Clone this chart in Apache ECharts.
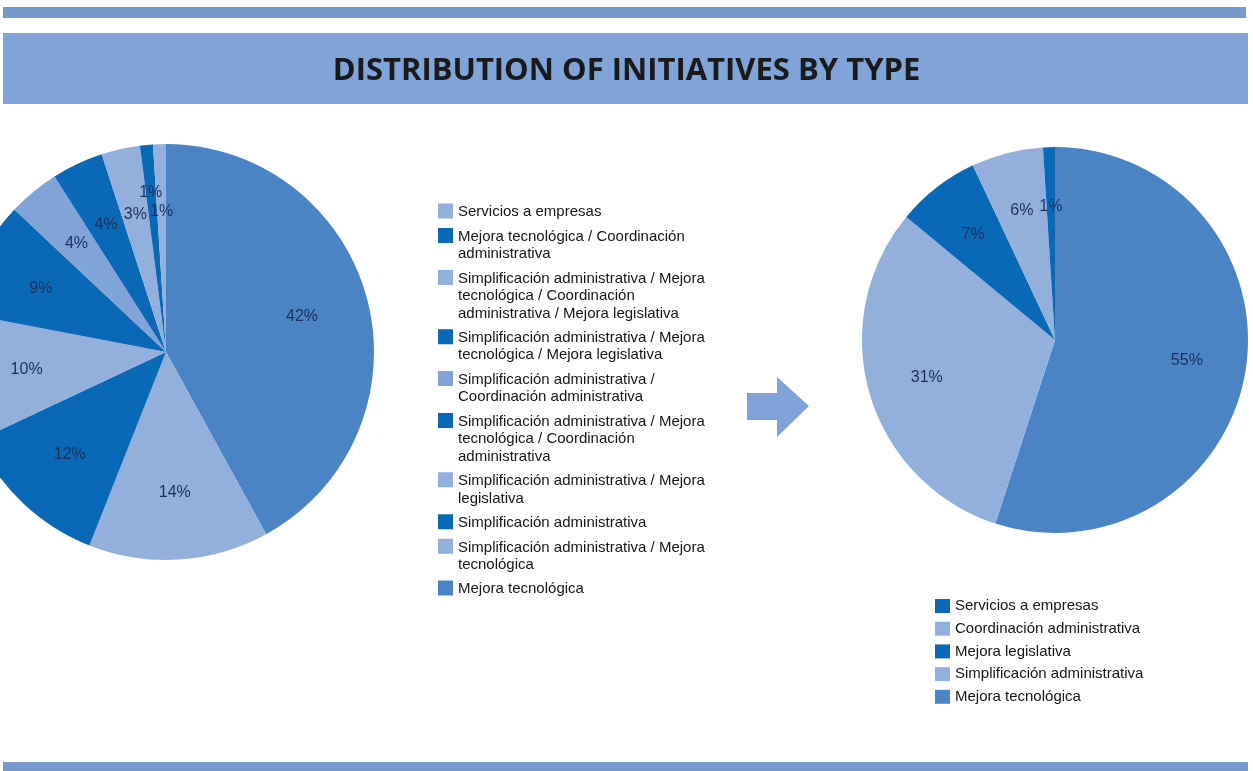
<!DOCTYPE html>
<html>
<head>
<meta charset="utf-8">
<script src="https://cdn.jsdelivr.net/npm/echarts@6/dist/echarts.min.js"></script>
<style>html,body{margin:0;padding:0;background:#fff}#c{width:1253px;height:771px}</style>
</head>
<body>
<div id="c"></div>
<script>
const titleText = 'DISTRIBUTION OF INITIATIVES BY TYPE';

// Left pie, clockwise from 12 o'clock
const leftCategories = [
  'Mejora tecnológica',
  'Simplificación administrativa / Mejora tecnológica',
  'Simplificación administrativa',
  'Simplificación administrativa / Mejora legislativa',
  'Simplificación administrativa / Mejora tecnológica / Coordinación administrativa',
  'Simplificación administrativa / Coordinación administrativa',
  'Simplificación administrativa / Mejora tecnológica / Mejora legislativa',
  'Simplificación administrativa / Mejora tecnológica / Coordinación administrativa / Mejora legislativa',
  'Mejora tecnológica / Coordinación administrativa',
  'Servicios a empresas'
];
const leftValues = [42, 14, 12, 10, 9, 4, 4, 3, 1, 1];
const leftLegendLabels = [
  'Mejora tecnológica',
  'Simplificación administrativa / Mejora\ntecnológica',
  'Simplificación administrativa',
  'Simplificación administrativa / Mejora\nlegislativa',
  'Simplificación administrativa / Mejora\ntecnológica / Coordinación\nadministrativa',
  'Simplificación administrativa /\nCoordinación administrativa',
  'Simplificación administrativa / Mejora\ntecnológica / Mejora legislativa',
  'Simplificación administrativa / Mejora\ntecnológica / Coordinación\nadministrativa / Mejora legislativa',
  'Mejora tecnológica / Coordinación\nadministrativa',
  'Servicios a empresas'
];

// Right pie, clockwise from 12 o'clock
const rightCategories = [
  'Mejora tecnológica',
  'Simplificación administrativa',
  'Mejora legislativa',
  'Coordinación administrativa',
  'Servicios a empresas'
];
const rightValues = [55, 31, 7, 6, 1];

// styles
const MED = '#4A84C4', LIGHT = '#93B0DD', DARK = '#0A69B7', LMED = '#80A3D8';
const leftColors = [MED, LIGHT, DARK, LIGHT, DARK, LMED, DARK, LIGHT, DARK, LIGHT];
const rightColors = [MED, LIGHT, DARK, LIGHT, DARK];
const labelOffsets = { 8: [-2, -20] };

const FONT = 'Liberation Sans, Arial, sans-serif';
const labelColor = '#1a2f5c';

function pieData(cats, vals, colors) {
  return cats.map((n, i) => ({ name: n, value: vals[i], itemStyle: { color: colors[i] } }));
}
function labelData(cats, vals, offsets) {
  return cats.map((n, i) => {
    const d = { name: n, value: vals[i] };
    if (offsets && offsets[i]) d.label = { offset: offsets[i] };
    return d;
  });
}
const labelStyle = {
  show: true, position: 'inside', formatter: '{c}%',
  fontSize: 16, color: labelColor, fontFamily: FONT
};

// Left legend: one legend component per entry, so the swatch can sit on the first text line
const LH = 17.4, ENTRY_GAP = 24.5, LEG_X = 438, LEG_Y0 = 211, SW = 15;
const leftLegends = [];
{
  let y = LEG_Y0;
  for (let k = leftCategories.length - 1; k >= 0; k--) {
    const text = leftLegendLabels[k];
    const n = text.split('\n').length;
    const H = Math.round(n * LH * 100) / 100;
    const icon = 'path://M0,0H' + SW + 'V' + SW + 'H0Z M0,' + (H - 0.01) + 'H0.01V' + H + 'H0Z';
    leftLegends.push({
      orient: 'vertical', left: LEG_X, top: y - SW / 2, padding: 0,
      itemWidth: SW, itemHeight: H, selectedMode: false,
      data: [{ name: leftCategories[k], icon: icon, itemStyle: { color: leftColors[k], borderWidth: 0 } }],
      formatter: () => text,
      textStyle: { fontSize: 15, lineHeight: LH, color: '#151515', fontFamily: FONT }
    });
    y += (n - 1) * LH + ENTRY_GAP;
  }
}
const rightLegendData = rightCategories.map((c, i) => ({
  name: c, icon: 'rect', itemStyle: { color: rightColors[i], borderWidth: 0 }
})).reverse();

const chart = echarts.init(document.getElementById('c'), null, { renderer: 'canvas' });
chart.setOption({
  animation: false,
  backgroundColor: '#ffffff',
  title: {
    text: titleText, left: 'center', top: 56, padding: 0,
    textStyle: { fontSize: 31, fontWeight: 'bold', fontFamily: 'Open Sans, sans-serif', color: '#1a1a1a' }
  },
  graphic: [
    { type: 'rect', z: -10, shape: { x: 3, y: 7, width: 1243, height: 11 }, style: { fill: '#7499CA' }, silent: true },
    { type: 'rect', z: -10, shape: { x: 3, y: 33, width: 1245, height: 71 }, style: { fill: '#80A4D7' }, silent: true },
    { type: 'rect', z: -10, shape: { x: 3, y: 762, width: 1245, height: 9 }, style: { fill: '#7499CA' }, silent: true },
    { type: 'polygon', z: -10, shape: { points: [[747,393],[777,393],[777,377],[809,406],[777,437],[777,420],[747,420]] }, style: { fill: '#7FA3D8' }, silent: true }
  ],
  legend: leftLegends.concat([
    {
      orient: 'vertical', left: 935, top: 598.5, padding: 0, itemGap: 7.7,
      itemWidth: 15, itemHeight: 14, selectedMode: false,
      data: rightLegendData,
      textStyle: { fontSize: 15, color: '#151515', fontFamily: FONT }
    }
  ]),
  series: [
    {
      type: 'pie', center: [166, 352], radius: [0, 208], startAngle: 90, clockwise: true,
      silent: true, label: { show: false }, labelLine: { show: false },
      itemStyle: { borderWidth: 0 },
      data: pieData(leftCategories, leftValues, leftColors)
    },
    {
      type: 'pie', center: [166, 352], radius: [67, 208], startAngle: 90, clockwise: true,
      silent: true, avoidLabelOverlap: false, label: labelStyle, labelLine: { show: false },
      itemStyle: { color: 'rgba(0,0,0,0)', borderWidth: 0 },
      data: labelData(leftCategories, leftValues, labelOffsets)
    },
    {
      type: 'pie', center: [1055, 340], radius: [0, 193], startAngle: 90, clockwise: true,
      silent: true, label: { show: false }, labelLine: { show: false },
      itemStyle: { borderWidth: 0 },
      data: pieData(rightCategories, rightValues, rightColors)
    },
    {
      type: 'pie', center: [1055, 340], radius: [68, 193], startAngle: 90, clockwise: true,
      silent: true, avoidLabelOverlap: false, label: labelStyle, labelLine: { show: false },
      itemStyle: { color: 'rgba(0,0,0,0)', borderWidth: 0 },
      data: labelData(rightCategories, rightValues, null)
    }
  ]
});
</script>
</body>
</html>
